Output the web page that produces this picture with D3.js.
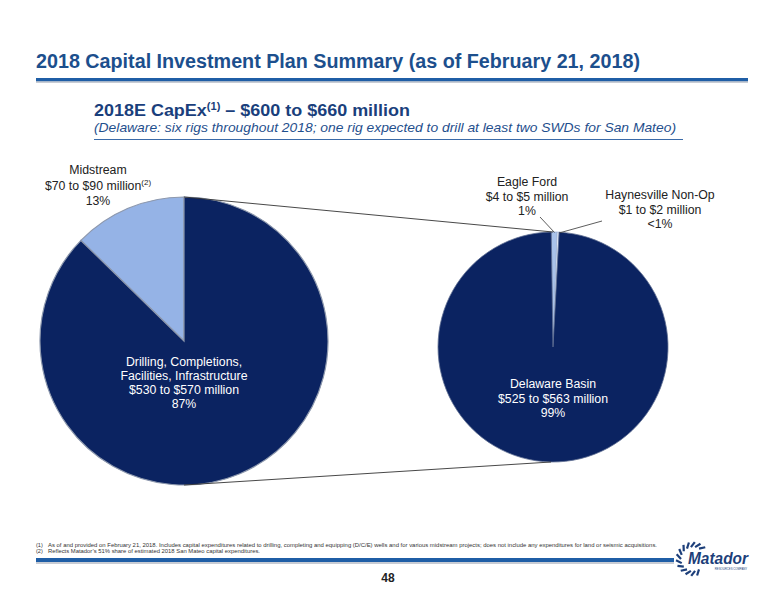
<!DOCTYPE html>
<html><head><meta charset="utf-8">
<script src="https://cdn.jsdelivr.net/npm/d3@7"></script>
<style>body{margin:0;background:#fff}svg{display:block;font-family:"Liberation Sans",Arial,sans-serif}</style>
</head><body><div id="c"></div>
<script>
// ---- data ----
const leftCategories = ["Midstream", "Drilling, Completions, Facilities, Infrastructure"];
const leftValues = [80, 550];            // midpoints: $70-$90M, $530-$570M
const leftPct = ["13%", "87%"];
const leftRanges = ["$70 to $90 million", "$530 to $570 million"];
const rightCategories = ["Eagle Ford", "Haynesville Non-Op", "Delaware Basin"];
const rightValues = [4.5, 1.5, 544];     // midpoints
const rightPct = ["1%", "<1%", "99%"];
const rightRanges = ["$4 to $5 million", "$1 to $2 million", "$525 to $563 million"];

const W = 776, H = 600;
const svg = d3.select("#c").append("svg").attr("width", W).attr("height", H);
const navy = "#0b2361", light = "#95b3e6", titleBlue = "#1c4f8d";

// Title
svg.append("text").attr("x", 36).attr("y", 67.5).attr("font-size", 19.5).attr("font-weight", "bold")
  .attr("fill", titleBlue).attr("textLength", 604).attr("lengthAdjust", "spacingAndGlyphs")
  .text("2018 Capital Investment Plan Summary (as of February 21, 2018)");
svg.append("rect").attr("x", 36).attr("y", 81).attr("width", 712).attr("height", 2).attr("fill", "#c8ccd4");
svg.append("rect").attr("x", 36).attr("y", 78).attr("width", 712).attr("height", 3.2).attr("fill", "#1f5ea6");

// Subtitle
const sub = svg.append("text").attr("x", 94).attr("y", 116).attr("font-size", 17).attr("font-weight", "bold").attr("fill", "#1a3f7c")
  .attr("textLength", 316).attr("lengthAdjust", "spacingAndGlyphs");
sub.append("tspan").text("2018E CapEx");
sub.append("tspan").attr("font-size", 10.5).attr("dy", -6.5).text("(1)");
sub.append("tspan").attr("dy", 6.5).text(" \u2013 $600 to $660 million");
svg.append("text").attr("x", 94).attr("y", 132).attr("font-size", 13.5).attr("font-style", "italic").attr("fill", "#1f4f8d")
  .attr("textLength", 582).attr("lengthAdjust", "spacingAndGlyphs")
  .text("(Delaware: six rigs throughout 2018; one rig expected to drill at least two SWDs for San Mateo)");
svg.append("line").attr("x1", 94).attr("x2", 683).attr("y1", 139.5).attr("y2", 139.5).attr("stroke", "#3a6aa8").attr("stroke-width", 1);

// Left pie
const L = {cx: 184, cy: 341, r: 144};
const midAngle = 2 * Math.PI * leftValues[0] / d3.sum(leftValues);
const leftPie = d3.pie().sort(null).startAngle(-midAngle).endAngle(2 * Math.PI - midAngle);
const arcL = d3.arc().innerRadius(0).outerRadius(L.r);
const gL = svg.append("g").attr("transform", `translate(${L.cx},${L.cy})`);
gL.selectAll("path").data(leftPie(leftValues)).join("path")
  .attr("d", arcL).attr("fill", (d, i) => i === 0 ? light : navy)
  .attr("stroke", "#8d98ad").attr("stroke-width", 1.2);

// Right pie
const R = {cx: 553, cy: 347, r: 115};
const tot = d3.sum(rightValues);
const sa = -0.3 * 2 * Math.PI * rightValues[0] / tot;
const rightPie = d3.pie().sort(null).startAngle(sa).endAngle(sa + 2 * Math.PI);
const arcR = d3.arc().innerRadius(0).outerRadius(R.r);
const gR = svg.append("g").attr("transform", `translate(${R.cx},${R.cy})`);
gR.selectAll("path").data(rightPie(rightValues)).join("path")
  .attr("d", arcR).attr("fill", (d, i) => i === 0 ? "#a9c2ea" : i === 1 ? "#eef2fa" : navy)
  .attr("stroke", (d, i) => i === 2 ? "#5f6f92" : "#9fb2d4").attr("stroke-width", 0.8);

// Connector lines between pies
svg.append("line").attr("x1", L.cx).attr("y1", L.cy - L.r).attr("x2", R.cx).attr("y2", R.cy - R.r)
  .attr("stroke", "#333").attr("stroke-width", 0.9);
svg.append("line").attr("x1", L.cx).attr("y1", L.cy + L.r).attr("x2", R.cx - 2).attr("y2", R.cy + R.r)
  .attr("stroke", "#333").attr("stroke-width", 0.9);

// Labels
function label(lines, x, y, dy, color, sup) {
  const t = svg.append("text").attr("text-anchor", "middle").attr("font-size", 12.3).attr("fill", color);
  lines.forEach((s, i) => {
    const ts = t.append("tspan").attr("x", x).attr("y", y + i * dy).text(s);
    if (sup && i === sup.line) ts.append("tspan").attr("font-size", 8).attr("dy", -5).text(sup.text);
  });
}
label([leftCategories[0], leftRanges[0], leftPct[0]], 98, 174, 15.5, "#222", {line: 1, text: "(2)"});
label(["Drilling, Completions,", "Facilities, Infrastructure", leftRanges[1], leftPct[1]], 184, 366, 14, "#fff");
label([rightCategories[0], rightRanges[0], rightPct[0]], 527, 186, 14.5, "#222");
label([rightCategories[1], rightRanges[1], rightPct[1]], 660, 199, 14.5, "#222");
label([rightCategories[2], rightRanges[2], rightPct[2]], 553, 388, 14.5, "#fff");

// Leader lines
svg.append("line").attr("x1", 540).attr("y1", 217).attr("x2", 554.5).attr("y2", 232.5).attr("stroke", "#333").attr("stroke-width", 0.8);
svg.append("line").attr("x1", 602).attr("y1", 221).attr("x2", 559).attr("y2", 233).attr("stroke", "#333").attr("stroke-width", 0.8);

// Footnotes
const fn = [["(1)", "As of and provided on February 21, 2018.  Includes capital expenditures related to drilling, completing and equipping (D/C/E) wells and for various midstream projects; does not include any expenditures for land or seismic acquisitions."],
            ["(2)", "Reflects Matador\u2019s 51% share of estimated 2018 San Mateo capital expenditures."]];
fn.forEach((f, i) => {
  svg.append("text").attr("x", 36).attr("y", 546.5 + i * 6.5).attr("font-size", 5.6).attr("fill", "#333").text(f[0]);
  svg.append("text").attr("x", 48).attr("y", 546.5 + i * 6.5).attr("font-size", 5.6).attr("fill", "#333")
    .attr("textLength", i === 0 ? 609 : 212).attr("lengthAdjust", "spacingAndGlyphs").text(f[1]);
});
svg.append("rect").attr("x", 36).attr("y", 562).attr("width", 638).attr("height", 2).attr("fill", "#c8ccd4");
svg.append("rect").attr("x", 36).attr("y", 558).attr("width", 638).attr("height", 4).attr("fill", "#1f5ea6");
svg.append("text").attr("x", 388).attr("y", 582).attr("text-anchor", "middle").attr("font-size", 12).attr("font-weight", "bold").attr("fill", "#222").text("48");

// Logo
const lg = svg.append("g").attr("transform", "translate(693,559)");
d3.range(18).forEach(i => {
  const a = (i / 18) * 2 * Math.PI;
  if (a > Math.PI * 1.72 || a < Math.PI * 0.28) return;   // open on the right
  lg.append("line").attr("x1", Math.cos(a) * 12).attr("y1", Math.sin(a) * 12)
    .attr("x2", Math.cos(a + 0.28) * 17).attr("y2", Math.sin(a + 0.28) * 17)
    .attr("stroke", "#1d3f7a").attr("stroke-width", 2.2);
});
svg.append("text").attr("x", 688).attr("y", 564).attr("font-size", 16).attr("font-weight", "bold").attr("font-style", "italic")
  .attr("fill", "#1d3f7a").attr("stroke", "#fff").attr("stroke-width", 0.6).attr("paint-order", "stroke")
  .attr("textLength", 60).attr("lengthAdjust", "spacingAndGlyphs").text("Matador");
svg.append("text").attr("x", 731).attr("y", 569.5).attr("font-size", 2.8).attr("fill", "#1d3f7a").attr("text-anchor", "middle").text("RESOURCES COMPANY");
</script></body></html>
